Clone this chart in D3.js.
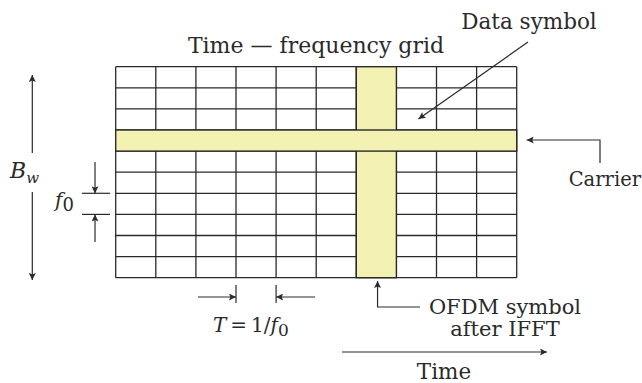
<!DOCTYPE html>
<html><head><meta charset="utf-8">
<script src="https://cdn.jsdelivr.net/npm/d3@7"></script>
<style>html,body{margin:0;padding:0;background:#fff;}svg{display:block;}</style>
</head><body>
<script>
// ---- data ----
const timeSlots = d3.range(10);        // columns (time, T = 1/f0 each)
const subcarriers = d3.range(10);      // rows (frequency, f0 each)
const carrierRow = [3];                // highlighted carrier (row index from top)
const symbolCol = [6];                 // highlighted OFDM symbol (column index)
const labels = {
  title: "Time \u2014 frequency grid",
  data: "Data symbol",
  carrier: "Carrier",
  ofdm1: "OFDM symbol",
  ofdm2: "after IFFT",
  time: "Time"
};

const W = 642, H = 383;
const svg = d3.select("body").append("svg").attr("width", W).attr("height", H);
const FONT = "'DejaVu Serif', 'Liberation Serif', serif";
const ink = "#2a2a2a";
const fillY = "#f3f2b2";

const x = d3.scaleLinear().domain([0, timeSlots.length]).range([115.7, 516.7]);
const y = d3.scaleLinear().domain([0, subcarriers.length]).range([66.7, 277.7]);

const defs = svg.append("defs");
defs.append("marker").attr("id", "ah").attr("viewBox", "0 0 10 10")
  .attr("refX", 10).attr("refY", 5).attr("markerWidth", 11).attr("markerHeight", 7)
  .attr("markerUnits", "userSpaceOnUse").attr("orient", "auto")
  .append("path").attr("d", "M0,0 L10,5 L0,10 L2,5 Z").attr("fill", ink);

// grid
const g = svg.append("g");
g.selectAll("line.v").data(d3.range(timeSlots.length + 1)).join("line")
  .attr("x1", d => x(d)).attr("x2", d => x(d)).attr("y1", y(0)).attr("y2", y(subcarriers.length))
  .attr("stroke", ink).attr("stroke-width", 1.3);
g.selectAll("line.h").data(d3.range(subcarriers.length + 1)).join("line")
  .attr("x1", x(0)).attr("x2", x(timeSlots.length)).attr("y1", d => y(d)).attr("y2", d => y(d))
  .attr("stroke", ink).attr("stroke-width", 1.3);

// OFDM symbol column
g.selectAll("rect.col").data(symbolCol).join("rect")
  .attr("x", d => x(d)).attr("width", d => x(d + 1) - x(d))
  .attr("y", y(0)).attr("height", y(subcarriers.length) - y(0))
  .attr("fill", fillY).attr("stroke", ink).attr("stroke-width", 1.4);
// carrier row
g.selectAll("rect.row").data(carrierRow).join("rect")
  .attr("x", x(0)).attr("width", x(timeSlots.length) - x(0))
  .attr("y", d => y(d)).attr("height", d => y(d + 1) - y(d))
  .attr("fill", fillY).attr("stroke", ink).attr("stroke-width", 1.4);

// helpers
function line(pts, arrowEnd) {
  const p = svg.append("path").attr("d", d3.line()(pts)).attr("fill", "none")
    .attr("stroke", ink).attr("stroke-width", 1.2);
  if (arrowEnd) p.attr("marker-end", "url(#ah)");
  return p;
}
function text(str, tx, ty, size, anchor) {
  return svg.append("text").attr("x", tx).attr("y", ty).attr("font-family", FONT)
    .attr("font-size", size).attr("fill", ink).attr("text-anchor", anchor || "start").text(str);
}

// Title
text(labels.title, 316, 53, 22, "middle");
// Data symbol label + arrow
text(labels.data, 529, 29, 21.5, "middle");
line([[528, 42], [x(7.55), 119]], true);

// Carrier arrow + label
line([[600, 163], [600, 140], [x(10) + 10, 140]], true);
text(labels.carrier, 641, 186, 19.5, "end");

// Bw arrow
line([[32.3, 153], [32.3, 75]], true);
line([[32.3, 192], [32.3, 280]], true);
const bw = svg.append("text").attr("x", 10).attr("y", 178).attr("font-family", FONT)
  .attr("fill", ink).attr("font-style", "italic").attr("font-size", 22);
bw.append("tspan").text("B");
bw.append("tspan").attr("font-size", 15).attr("dy", 5).text("w");

// f0 marker
const f0a = y(6), f0b = y(7);
line([[82, f0a], [110, f0a]]);
line([[82, f0b], [110, f0b]]);
line([[95, 162], [95, f0a]], true);
line([[95, 242], [95, f0b]], true);
const f0 = svg.append("text").attr("x", 55).attr("y", 207).attr("font-family", FONT)
  .attr("fill", ink).attr("font-size", 20);
f0.append("tspan").attr("font-style", "italic").text("f");
f0.append("tspan").attr("font-size", 18).attr("dy", 4).text("0");

// T = 1/f0
line([[x(3), 285], [x(3), 303]]);
line([[x(4), 285], [x(4), 303]]);
line([[198, 297], [x(3), 297]], true);
line([[315, 297], [x(4), 297]], true);
const tt = svg.append("text").attr("x", 213).attr("y", 332).attr("font-family", FONT)
  .attr("fill", ink).attr("font-size", 20);
tt.append("tspan").attr("font-style", "italic").text("T");
tt.append("tspan").text("\u2009=\u20091/");
tt.append("tspan").attr("font-style", "italic").text("f");
tt.append("tspan").attr("font-size", 17).attr("dy", 4).text("0");

// OFDM symbol arrow
line([[420, 307], [x(6.53), 307], [x(6.53), 281]], true);
text(labels.ofdm1, 505, 314, 21, "middle");
text(labels.ofdm2, 505, 336, 21, "middle");

// Time arrow
line([[342, 352], [547, 352]], true);
text(labels.time, 444, 379, 21.5, "middle");
</script>
</body></html>
